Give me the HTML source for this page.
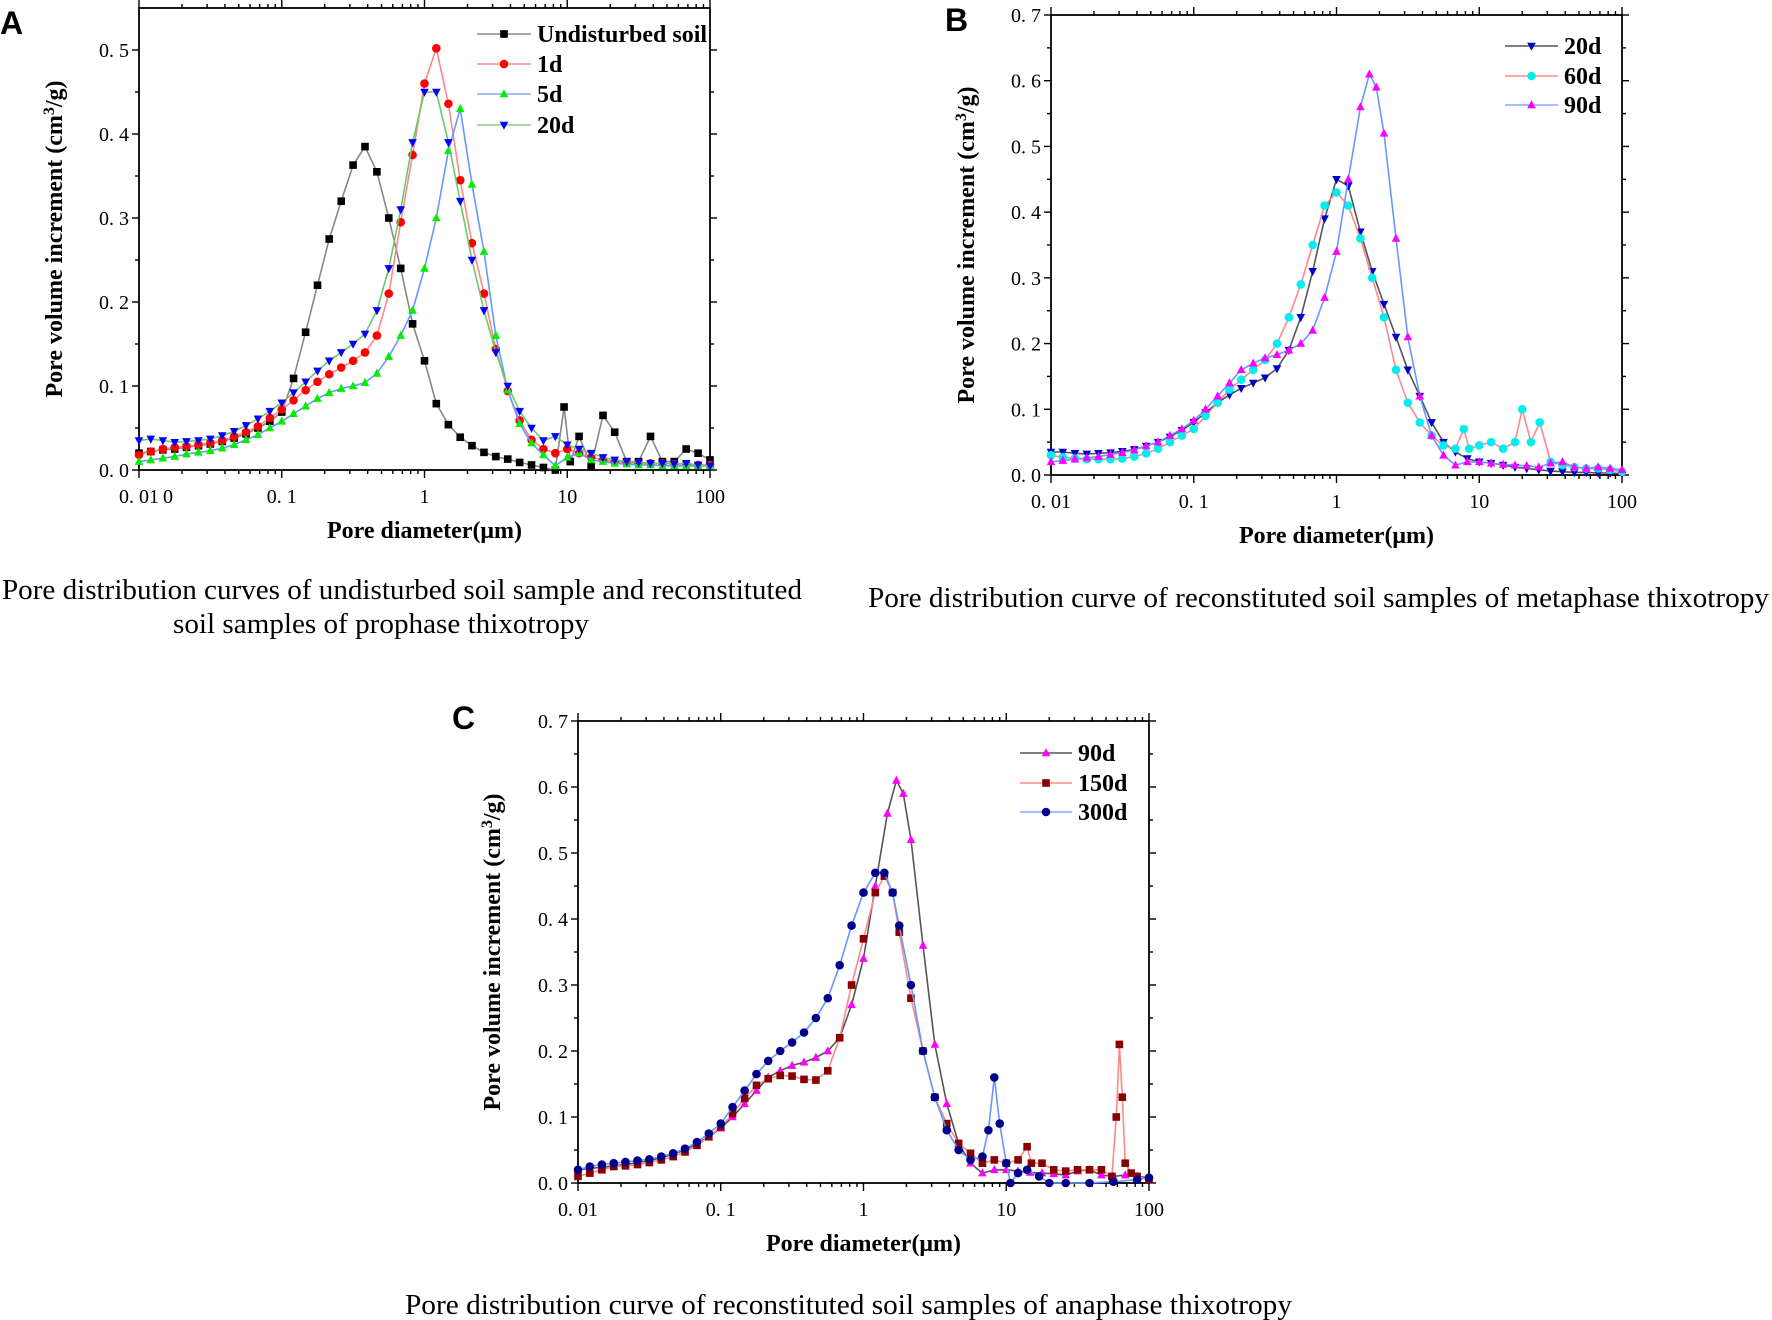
<!DOCTYPE html>
<html><head><meta charset="utf-8"><style>
body{margin:0;background:#fff;}
svg{display:block;font-family:"Liberation Serif",serif;}
</style></head><body>
<svg id="fig" width="1772" height="1320" viewBox="0 0 1772 1320" xmlns="http://www.w3.org/2000/svg">
<text x="0" y="34" font-family="Liberation Sans,sans-serif" font-weight="bold" font-size="32">A</text>
<text x="945" y="31" font-family="Liberation Sans,sans-serif" font-weight="bold" font-size="32">B</text>
<text x="452" y="729" font-family="Liberation Sans,sans-serif" font-weight="bold" font-size="32">C</text>
<text x="2" y="599" font-size="28" textLength="800" lengthAdjust="spacingAndGlyphs">Pore distribution curves of undisturbed soil sample and reconstituted</text>
<text x="173" y="633" font-size="28" textLength="416" lengthAdjust="spacingAndGlyphs">soil samples of prophase thixotropy</text>
<text x="868" y="607" font-size="28" textLength="901" lengthAdjust="spacingAndGlyphs">Pore distribution curve of reconstituted  soil samples of metaphase thixotropy</text>
<text x="405" y="1314" font-size="28" textLength="887" lengthAdjust="spacingAndGlyphs">Pore distribution curve of reconstituted  soil samples of anaphase thixotropy</text>
</svg>
<script>
// ---------- Panel A data ----------
const aGridX=[0.01,0.0121,0.0147,0.0178,0.0215,0.0261,0.0316,0.0383,0.0464,0.0562,0.0681,0.0825,0.1,0.121,0.147,0.178,0.215,0.261,0.316,0.383,0.464,0.562,0.681,0.825,1,1.21,1.47,1.78,2.15,2.61,3.16,3.83,4.64,5.62,6.81,8.25,10,12.1,14.7,17.8,21.5,26.1,31.6,38.3,46.4,56.2,68.1,82.5,100];
const aUndisturbedX=[0.01,0.0121,0.0147,0.0178,0.0215,0.0261,0.0316,0.0383,0.0464,0.0562,0.0681,0.0825,0.1,0.121,0.147,0.178,0.215,0.261,0.316,0.383,0.464,0.562,0.681,0.825,1,1.21,1.47,1.78,2.15,2.61,3.16,3.83,4.64,5.62,6.81,8.25,9.5,10.5,12.1,14.7,17.8,21.5,26.1,31.6,38.3,46.4,56.2,68.1,82.5,100];
const aUndisturbedY=[0.02,0.022,0.024,0.025,0.027,0.029,0.031,0.034,0.038,0.043,0.05,0.058,0.069,0.109,0.164,0.22,0.275,0.32,0.363,0.385,0.355,0.30,0.24,0.174,0.13,0.079,0.054,0.039,0.029,0.021,0.016,0.013,0.009,0.006,0.003,0.0,0.075,0.01,0.04,0.005,0.065,0.045,0.01,0.01,0.04,0.01,0.01,0.025,0.02,0.012];
const a1dY=[0.018,0.022,0.025,0.027,0.028,0.03,0.032,0.035,0.04,0.045,0.052,0.062,0.072,0.083,0.095,0.105,0.114,0.122,0.13,0.14,0.16,0.21,0.295,0.375,0.46,0.502,0.436,0.345,0.27,0.21,0.144,0.094,0.059,0.036,0.025,0.02,0.025,0.02,0.015,0.012,0.01,0.009,0.008,0.008,0.008,0.007,0.007,0.006,0.006];
const a5dY=[0.01,0.012,0.014,0.016,0.019,0.021,0.023,0.026,0.03,0.036,0.042,0.05,0.058,0.067,0.076,0.085,0.092,0.097,0.1,0.104,0.115,0.135,0.16,0.19,0.24,0.3,0.38,0.43,0.34,0.26,0.16,0.095,0.055,0.032,0.018,0.005,0.015,0.02,0.012,0.01,0.008,0.007,0.006,0.006,0.005,0.005,0.005,0.005,0.005];
const a20dY=[0.035,0.037,0.035,0.033,0.034,0.035,0.037,0.041,0.046,0.053,0.061,0.07,0.08,0.092,0.105,0.118,0.13,0.14,0.15,0.162,0.19,0.24,0.31,0.39,0.45,0.45,0.39,0.32,0.25,0.19,0.14,0.1,0.07,0.05,0.035,0.04,0.03,0.025,0.02,0.015,0.012,0.01,0.009,0.008,0.008,0.007,0.008,0.006,0.005];
// ---------- Panel B data ----------
const bGridX=[0.01,0.0121,0.0147,0.0178,0.0215,0.0261,0.0316,0.0383,0.0464,0.0562,0.0681,0.0825,0.1,0.121,0.147,0.178,0.215,0.261,0.316,0.383,0.464,0.562,0.681,0.825,1,1.21,1.47,1.78,2.15,2.61,3.16,3.83,4.64,5.62,6.81,8.25,10,12.1,14.7,17.8,21.5,26.1,31.6,38.3,46.4,56.2,68.1,82.5,100];
const b20dY=[0.035,0.035,0.033,0.032,0.033,0.034,0.036,0.039,0.044,0.05,0.058,0.068,0.08,0.095,0.11,0.122,0.132,0.14,0.148,0.162,0.19,0.24,0.31,0.39,0.45,0.44,0.37,0.31,0.26,0.21,0.16,0.12,0.08,0.05,0.035,0.025,0.02,0.018,0.015,0.012,0.01,0.008,0.006,0.005,0.004,0.004,0.003,0.003,0.002];
const b60dX=[0.01,0.0121,0.0147,0.0178,0.0215,0.0261,0.0316,0.0383,0.0464,0.0562,0.0681,0.0825,0.1,0.121,0.147,0.178,0.215,0.261,0.316,0.383,0.464,0.562,0.681,0.825,1,1.21,1.47,1.78,2.15,2.61,3.16,3.83,4.64,5.62,6.81,7.8,8.5,10,12.1,14.7,17.8,20,23,26.5,31.6,38.3,46.4,56.2,68.1,82.5,100];
const b60dY=[0.03,0.027,0.025,0.024,0.024,0.024,0.025,0.028,0.033,0.04,0.05,0.06,0.07,0.09,0.11,0.13,0.145,0.16,0.175,0.2,0.24,0.29,0.35,0.41,0.43,0.41,0.36,0.3,0.24,0.16,0.11,0.08,0.06,0.045,0.04,0.07,0.04,0.045,0.05,0.04,0.05,0.1,0.05,0.08,0.02,0.015,0.012,0.01,0.01,0.008,0.005];
const b90dX=[0.01,0.0121,0.0147,0.0178,0.0215,0.0261,0.0316,0.0383,0.0464,0.0562,0.0681,0.0825,0.1,0.121,0.147,0.178,0.215,0.261,0.316,0.383,0.464,0.562,0.681,0.825,1,1.21,1.47,1.7,1.9,2.15,2.61,3.16,3.83,4.64,5.62,6.81,8.25,10,12.1,14.7,17.8,21.5,26.1,31.6,38.3,46.4,56.2,68.1,82.5,100];
const b90dY=[0.02,0.022,0.024,0.026,0.028,0.031,0.034,0.038,0.044,0.05,0.06,0.07,0.083,0.1,0.12,0.14,0.16,0.17,0.178,0.183,0.19,0.2,0.22,0.27,0.34,0.45,0.56,0.61,0.59,0.52,0.36,0.21,0.12,0.06,0.03,0.015,0.02,0.02,0.018,0.016,0.015,0.014,0.012,0.018,0.02,0.012,0.01,0.012,0.01,0.008];
// ---------- Panel C data ----------
const c150dX=[0.01,0.0121,0.0147,0.0178,0.0215,0.0261,0.0316,0.0383,0.0464,0.0562,0.0681,0.0825,0.1,0.121,0.147,0.178,0.215,0.261,0.316,0.383,0.464,0.562,0.681,0.825,1,1.21,1.4,1.6,1.78,2.15,2.61,3.16,3.83,4.64,5.62,6.81,8.25,10,12.1,14,15,17.8,21.5,26.1,31.6,38.3,46.4,55,59,62,65,68.1,75,82.5,100];
const c150dY=[0.01,0.015,0.02,0.025,0.026,0.028,0.031,0.035,0.04,0.047,0.057,0.07,0.085,0.105,0.128,0.148,0.158,0.163,0.162,0.157,0.156,0.17,0.22,0.3,0.37,0.44,0.465,0.44,0.38,0.28,0.2,0.13,0.09,0.06,0.045,0.03,0.035,0.03,0.035,0.055,0.03,0.03,0.02,0.018,0.02,0.02,0.02,0.01,0.1,0.21,0.13,0.03,0.015,0.01,0.005];
const c300dX=[0.01,0.0121,0.0147,0.0178,0.0215,0.0261,0.0316,0.0383,0.0464,0.0562,0.0681,0.0825,0.1,0.121,0.147,0.178,0.215,0.261,0.316,0.383,0.464,0.562,0.681,0.825,1,1.21,1.4,1.6,1.78,2.15,2.61,3.16,3.83,4.64,5.62,6.81,7.5,8.25,9,10,10.7,12.1,14,17,20,26.1,38.3,56.2,82.5,100];
const c300dY=[0.02,0.025,0.028,0.03,0.032,0.034,0.036,0.04,0.045,0.052,0.062,0.075,0.09,0.115,0.14,0.165,0.185,0.2,0.213,0.228,0.25,0.28,0.33,0.39,0.44,0.47,0.47,0.44,0.39,0.3,0.2,0.13,0.08,0.05,0.035,0.04,0.08,0.16,0.09,0.03,0.0,0.015,0.02,0.01,0.0,0.0,0.0,0.002,0.005,0.008];
const cTickY=["0. 0","0. 1","0. 2","0. 3","0. 4","0. 5","0. 6","0. 7"];
const aTickY=["0. 0","0. 1","0. 2","0. 3","0. 4","0. 5"];
const xTickLabels=["0. 01","0. 1","1","10","100"];

const svg=document.getElementById('fig');
const NS='http://www.w3.org/2000/svg';
function mk(tag,attrs,parent){const e=document.createElementNS(NS,tag);for(const k in attrs)e.setAttribute(k,attrs[k]);(parent||svg).appendChild(e);return e;}

function marker(g,shape,x,y,c){
  const s=4.3;
  let e;
  if(shape==='sq') e=mk('rect',{x:x-s+0.5,y:y-s+0.5,width:2*s-1,height:2*s-1,fill:c},g);
  else if(shape==='ci') e=mk('circle',{cx:x,cy:y,r:s,fill:c},g);
  else if(shape==='up') e=mk('polygon',{points:`${x},${y-s-0.5} ${x-s},${y+s-1} ${x+s},${y+s-1}`,fill:c},g);
  else e=mk('polygon',{points:`${x},${y+s+0.5} ${x-s},${y-s+1} ${x+s},${y-s+1}`,fill:c},g);
  return e;
}

function panel(id,L,R,T,B,ymax,yLabels,series,legend,titleX){
  const g=mk('g',{});
  
  
  const sx=d=>L+(Math.log10(d)+2)/4*(R-L);
  const sy=v=>B-v/ymax*(B-T);
  const fr=mk('rect',{x:L,y:T,width:R-L,height:B-T,fill:'none',stroke:'#000','stroke-width':1.8},g);
  
  
  for(let dec=-2;dec<=2;dec++){
    for(let m=1;m<=9;m++){
      if(dec===2&&m>1)break;
      const x=sx(m*Math.pow(10,dec));
      const len=m===1?8:4;
      mk('line',{x1:x,y1:B,x2:x,y2:B+len,stroke:'#000','stroke-width':1.4},g);
      mk('line',{x1:x,y1:T,x2:x,y2:T-len,stroke:'#000','stroke-width':1.4},g);
    }
  }
  xTickLabels.forEach((t,i)=>{
    const tx=mk('text',{x:L+i/4*(R-L),y:B+33,'text-anchor':'middle','font-size':20},g);
    tx.textContent=t;
    
    
  });
  const nMaj=yLabels.length;
  for(let i=0;i<nMaj*2-1;i++){
    const v=i*0.05; const y=sy(v); const len=i%2===0?7:4;
    mk('line',{x1:L,y1:y,x2:L-len,y2:y,stroke:'#000','stroke-width':1.4},g);
    mk('line',{x1:R,y1:y,x2:R+len,y2:y,stroke:'#000','stroke-width':1.4},g);
  }
  yLabels.forEach((t,i)=>{
    const tx=mk('text',{x:L-10,y:sy(i*0.1)+7,'text-anchor':'end','font-size':20},g);
    tx.textContent=t;
    
    
  });
  const xt=mk('text',{x:(L+R)/2,y:B+68,'text-anchor':'middle','font-size':24,'font-weight':'bold'},g);
  xt.textContent='Pore diameter(μm)';
  
  
  const yt=mk('text',{x:titleX,y:(T+B)/2,'text-anchor':'middle','font-size':24,'font-weight':'bold',transform:`rotate(-90 ${titleX} ${(T+B)/2})`},g);
  yt.innerHTML='Pore volume increment (cm<tspan baseline-shift="super" font-size="16">3</tspan>/g)';
  
  
  series.forEach(s=>{
    const sg=mk('g',{},g);
    
    
    const pts=s.x.map((d,i)=>sx(d).toFixed(1)+','+sy(s.y[i]).toFixed(1)).join(' ');
    mk('polyline',{points:pts,fill:'none',stroke:s.line,'stroke-width':1.6},sg);
    s.x.forEach((d,i)=>{
      const m=marker(sg,s.shape,sx(d),sy(s.y[i]),s.color);
      
      
    });
  });
  legend.rows.forEach((r,i)=>{
    const y=legend.y[i];
    const lg=mk('g',{},g);
    
    
    mk('line',{x1:legend.x1,y1:y,x2:legend.x2,y2:y,stroke:r.line,'stroke-width':1.6},lg);
    marker(lg,r.shape,(legend.x1+legend.x2)/2,y,r.color);
    const tx=mk('text',{x:legend.x2+6,y:y+8,'font-size':24,'font-weight':'bold'},lg);
    tx.textContent=r.name;
  });
}

const sA=[
 {name:'Undisturbed soil',x:aUndisturbedX,y:aUndisturbedY,shape:'sq',color:'#000',line:'#888'},
 {name:'1d',x:aGridX,y:a1dY,shape:'ci',color:'#f00',line:'#f88'},
 {name:'5d',x:aGridX,y:a5dY,shape:'up',color:'#0e0',line:'#69f'},
 {name:'20d',x:aGridX,y:a20dY,shape:'dn',color:'#00f',line:'#6c6'}];
panel('panel-a',139,710,8,470,0.55,aTickY,sA,
 {x1:477,x2:531,y:[34,64,94,125],rows:[
  {name:'Undisturbed soil',shape:'sq',color:'#000',line:'#888'},
  {name:'1d',shape:'ci',color:'#f00',line:'#f88'},
  {name:'5d',shape:'up',color:'#0e0',line:'#8af'},
  {name:'20d',shape:'dn',color:'#00f',line:'#8c8'}]},62);
const extra=mk('text',{x:163,y:503,'font-size':20});
extra.textContent='0';



const sB=[
 {name:'20d',x:bGridX,y:b20dY,shape:'dn',color:'#00c',line:'#555'},
 {name:'60d',x:b60dX,y:b60dY,shape:'ci',color:'#0ee',line:'#f88'},
 {name:'90d',x:b90dX,y:b90dY,shape:'up',color:'#f0f',line:'#69f'}];
panel('panel-b',1051,1622,15,475,0.7,cTickY,sB,
 {x1:1505,x2:1558,y:[46,76,105],rows:[
  {name:'20d',shape:'dn',color:'#00c',line:'#555'},
  {name:'60d',shape:'ci',color:'#0ee',line:'#f88'},
  {name:'90d',shape:'up',color:'#f0f',line:'#8af'}]},974);

const sC=[
 {name:'90d',x:b90dX,y:b90dY,shape:'up',color:'#f0f',line:'#555'},
 {name:'150d',x:c150dX,y:c150dY,shape:'sq',color:'#800',line:'#f88'},
 {name:'300d',x:c300dX,y:c300dY,shape:'ci',color:'#008',line:'#69f'}];
panel('panel-c',578,1149,721,1183,0.7,cTickY,sC,
 {x1:1020,x2:1072,y:[753,783,812],rows:[
  {name:'90d',shape:'up',color:'#f0f',line:'#555'},
  {name:'150d',shape:'sq',color:'#800',line:'#f88'},
  {name:'300d',shape:'ci',color:'#008',line:'#8af'}]},500);
</script>
</body></html>
